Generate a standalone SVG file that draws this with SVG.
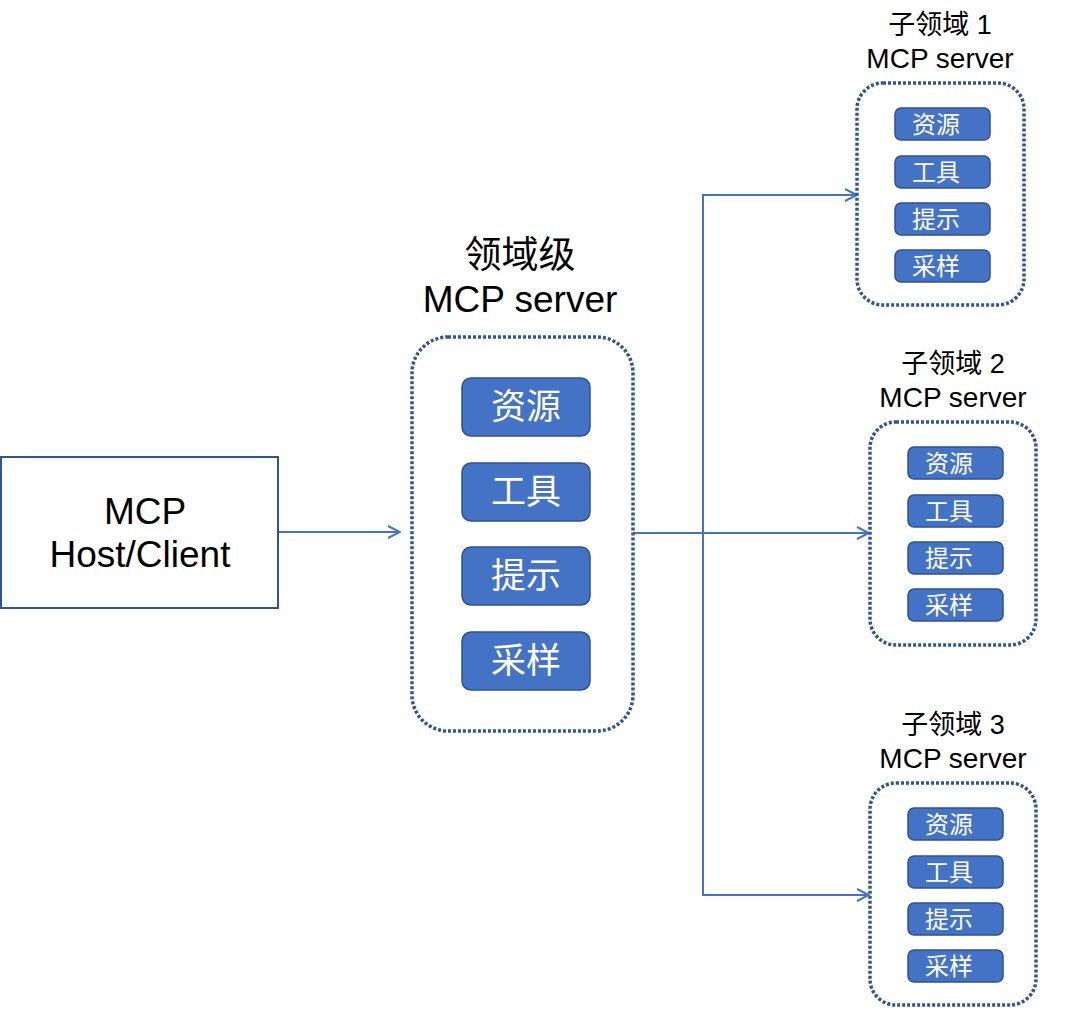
<svg xmlns="http://www.w3.org/2000/svg" width="1080" height="1010" viewBox="0 0 1080 1010">
<style>
.cont{fill:none;stroke:#2F5597;stroke-width:3.5;stroke-dasharray:3 2;}
.item{fill:#4472C4;stroke:#2F528F;stroke-width:1.5;}
.it{font-family:"Noto Sans CJK SC",sans-serif;fill:#fff;text-anchor:middle;}
.lbl{font-family:"Liberation Sans","Noto Sans CJK SC",sans-serif;fill:#000;text-anchor:middle;}
.conn{fill:none;stroke:#4472C4;stroke-width:2;}
</style>
<defs>
<marker id="arr" viewBox="0 0 14 14" refX="13" refY="7" markerWidth="14" markerHeight="14" markerUnits="userSpaceOnUse" orient="auto">
<path d="M1,1 L13,7 L1,13" fill="none" stroke="#4472C4" stroke-width="2"/>
</marker>
</defs>
<rect width="1080" height="1010" fill="#fff"/>
<g id="connectors">
<line class="conn" x1="278" y1="532" x2="400" y2="532" marker-end="url(#arr)"/>
<line class="conn" x1="633" y1="533" x2="869" y2="533" marker-end="url(#arr)"/>
<polyline class="conn" points="857,195 703,195 703,895 869,895"/>
<line class="conn" x1="703" y1="195" x2="857" y2="195" marker-end="url(#arr)"/>
<line class="conn" x1="703" y1="895" x2="869" y2="895" marker-end="url(#arr)"/>
</g>
<g id="host">
<rect x="1" y="457" width="277" height="151" fill="#fff" stroke="#2F5597" stroke-width="2"/>
<text class="lbl" x="145" y="524" font-size="37">MCP</text>
<text class="lbl" x="140" y="567" font-size="37">Host/Client</text>
</g>
<g id="domain">
<text class="lbl" x="520" y="268" font-size="37" font-family="Noto Sans CJK SC,sans-serif">领域级</text>
<text class="lbl" x="520" y="312" font-size="37">MCP server</text>
<rect class="cont" x="412" y="337" width="221" height="394" rx="36"/>
<rect class="item" x="462" y="378" width="128" height="58" rx="9"/><text class="it" x="526" y="419" font-size="35">资源</text>
<rect class="item" x="462" y="463" width="128" height="58" rx="9"/><text class="it" x="526" y="504" font-size="35">工具</text>
<rect class="item" x="462" y="547" width="128" height="58" rx="9"/><text class="it" x="526" y="588" font-size="35">提示</text>
<rect class="item" x="462" y="632" width="128" height="58" rx="9"/><text class="it" x="526" y="673" font-size="35">采样</text>
</g>
<g id="sub1">
<text class="lbl" x="940" y="34" font-size="27">子领域 1</text>
<text class="lbl" x="940" y="68" font-size="28">MCP server</text>
<rect class="cont" x="857" y="83" width="167" height="222" rx="26"/>
<rect class="item" x="895" y="108" width="95" height="32" rx="6"/><text class="it" x="936" y="133" font-size="24">资源</text>
<rect class="item" x="895" y="156" width="95" height="32" rx="6"/><text class="it" x="936" y="181" font-size="24">工具</text>
<rect class="item" x="895" y="203" width="95" height="32" rx="6"/><text class="it" x="936" y="228" font-size="24">提示</text>
<rect class="item" x="895" y="250" width="95" height="32" rx="6"/><text class="it" x="936" y="275" font-size="24">采样</text>
</g>
<g id="sub2">
<text class="lbl" x="953" y="373" font-size="27">子领域 2</text>
<text class="lbl" x="953" y="407" font-size="28">MCP server</text>
<rect class="cont" x="870" y="422" width="166" height="223" rx="26"/>
<rect class="item" x="908" y="447" width="95" height="32" rx="6"/><text class="it" x="949" y="472" font-size="24">资源</text>
<rect class="item" x="908" y="495" width="95" height="32" rx="6"/><text class="it" x="949" y="520" font-size="24">工具</text>
<rect class="item" x="908" y="542" width="95" height="32" rx="6"/><text class="it" x="949" y="567" font-size="24">提示</text>
<rect class="item" x="908" y="589" width="95" height="32" rx="6"/><text class="it" x="949" y="614" font-size="24">采样</text>
</g>
<g id="sub3">
<text class="lbl" x="953" y="734" font-size="27">子领域 3</text>
<text class="lbl" x="953" y="768" font-size="28">MCP server</text>
<rect class="cont" x="870" y="783" width="166" height="222" rx="26"/>
<rect class="item" x="908" y="808" width="95" height="32" rx="6"/><text class="it" x="949" y="833" font-size="24">资源</text>
<rect class="item" x="908" y="856" width="95" height="32" rx="6"/><text class="it" x="949" y="881" font-size="24">工具</text>
<rect class="item" x="908" y="903" width="95" height="32" rx="6"/><text class="it" x="949" y="928" font-size="24">提示</text>
<rect class="item" x="908" y="950" width="95" height="32" rx="6"/><text class="it" x="949" y="975" font-size="24">采样</text>
</g>
</svg>
